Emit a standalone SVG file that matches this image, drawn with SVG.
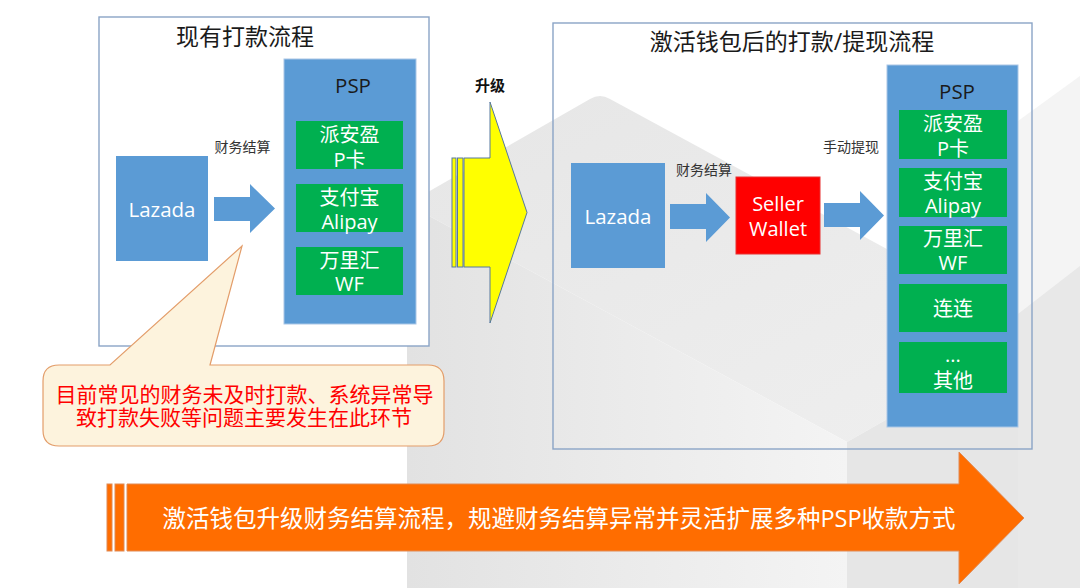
<svg xmlns="http://www.w3.org/2000/svg" width="1080" height="588" viewBox="0 0 1080 588">
<style>
text{font-family:"Open Sans","Noto Sans CJK SC",sans-serif;}
.w{fill:#ffffff;font-size:20px;text-anchor:middle;}
.title{font-size:23px;fill:#1a1a1a;text-anchor:middle;}
.lbl{font-size:14px;fill:#333333;text-anchor:middle;}
.panel{stroke:#8aa4c6;stroke-width:1.4;}
.blue{fill:#5b9bd5;}
.green{fill:#00b050;}
.psp{fill:#5b9bd5;stroke:#a9c6e6;stroke-width:1;}
.pspt{font-size:20.5px;fill:#1a1a1a;text-anchor:middle;}
.call{font-size:21px;fill:#ff0000;text-anchor:middle;}
</style>
<defs>
<linearGradient id="gLeft" x1="0" y1="0" x2="1" y2="0">
<stop offset="0" stop-color="#e2e2e2"/>
<stop offset="1" stop-color="#f4f4f4"/>
</linearGradient>
<linearGradient id="gTop" x1="0" y1="0" x2="1" y2="1">
<stop offset="0" stop-color="#e6e6e6"/>
<stop offset="1" stop-color="#efefef"/>
</linearGradient>
</defs>
<rect width="1080" height="588" fill="#ffffff"/>
<g id="background">
<path d="M407,204 L590,99 Q600,93 610,99 L1040,332 L847,442 Z" fill="url(#gTop)"/>
<path d="M407,204 L847,442 L847,588 L407,588 Z" fill="url(#gLeft)"/>
<path d="M847,442 L1040,332 L1040,588 L847,588 Z" fill="#e6e6e6"/>
<path d="M1080,76 L1018,121 L1018,588 L1080,588 Z" fill="#f4f4f4"/>
<path d="M1080,266 L1018,314 L1018,588 L1080,588 Z" fill="#e8e8e8"/>
</g>
<g id="panel-current">
<rect x="99" y="17" width="330" height="329" fill="#ffffff" class="panel"/>
<text x="245" y="44.5" class="title">现有打款流程</text>
</g>
<g id="panel-new">
<rect x="553" y="23" width="479" height="426" fill="none" class="panel"/>
<text x="792" y="50" class="title">激活钱包后的打款/提现流程</text>
</g>
<g id="lazada-left">
<rect x="116" y="156" width="92" height="105" class="blue"/>
<text x="162" y="216.5" class="w" style="font-size:20.5px">Lazada</text>
</g>
<g id="psp-left">
<rect x="284" y="59" width="132" height="265" class="psp"/>
<text x="353" y="93" class="pspt">PSP</text>
</g>
<g id="psp-left-payoneer">
<rect x="296" y="121" width="107" height="48" class="green"/>
<text x="349.5" y="142" class="w">派安盈</text>
<text x="349.5" y="167" class="w">P卡</text>
</g>
<g id="psp-left-alipay">
<rect x="296" y="184" width="107" height="48" class="green"/>
<text x="349.5" y="205" class="w">支付宝</text>
<text x="349.5" y="229" class="w">Alipay</text>
</g>
<g id="psp-left-wf">
<rect x="296" y="247" width="107" height="48" class="green"/>
<text x="349.5" y="268" class="w">万里汇</text>
<text x="349.5" y="291" class="w">WF</text>
</g>
<g id="callout">
<path d="M59,365 H110 L242,246 L210,365 H428 Q444,365 444,381 V430 Q444,446 428,446 H59 Q43,446 43,430 V381 Q43,365 59,365 Z" fill="#fdf3dd" stroke="#e39d6a" stroke-width="1.2"/>
<text x="244.5" y="402" class="call">目前常见的财务未及时打款、系统异常导</text>
<text x="244" y="425" class="call">致打款失败等问题主要发生在此环节</text>
</g>
<g id="lazada-right">
<rect x="571" y="163" width="94" height="105" class="blue"/>
<text x="618" y="224" class="w" style="font-size:20.5px">Lazada</text>
</g>
<g id="seller-wallet">
<rect x="736" y="177" width="84" height="77" fill="#ff0000" stroke="#e83030" stroke-width="1"/>
<text x="778" y="211" class="w">Seller</text>
<text x="778" y="236" class="w">Wallet</text>
</g>
<g id="psp-right">
<rect x="887" y="65" width="131" height="362" class="psp"/>
<text x="957" y="99" class="pspt">PSP</text>
</g>
<g id="psp-right-payoneer">
<rect x="899" y="110" width="108" height="49" class="green"/>
<text x="953" y="130.5" class="w">派安盈</text>
<text x="953" y="155.5" class="w">P卡</text>
</g>
<g id="psp-right-alipay">
<rect x="899" y="168" width="108" height="49" class="green"/>
<text x="953" y="188.5" class="w">支付宝</text>
<text x="953" y="213" class="w">Alipay</text>
</g>
<g id="psp-right-wf">
<rect x="899" y="226" width="108" height="48" class="green"/>
<text x="953" y="245.5" class="w">万里汇</text>
<text x="953" y="270" class="w">WF</text>
</g>
<g id="psp-right-lianlian">
<rect x="899" y="284" width="108" height="48" class="green"/>
<text x="953" y="315.5" class="w">连连</text>
</g>
<g id="psp-right-other">
<rect x="899" y="342" width="108" height="51" class="green"/>
<text x="953" y="362" class="w">...</text>
<text x="953" y="387.5" class="w">其他</text>
</g>
<g id="connectors">
<path d="M214,197 H250 V184 L275,208.5 L250,233 V221 H214 Z" class="blue"/>
<text x="242.5" y="152" class="lbl">财务结算</text>
<path d="M670,204 H706 V193 L730,217.5 L706,242 V229 H670 Z" class="blue"/>
<text x="704" y="175" class="lbl">财务结算</text>
<path d="M824,203 H860 V191 L884,215.5 L860,240 V227 H824 Z" class="blue"/>
<text x="851" y="152" class="lbl">手动提现</text>
<g id="upgrade-arrow">
<rect x="452" y="158" width="4" height="109" fill="#ffff00" stroke="#56789e" stroke-width="1"/>
<rect x="457.5" y="158" width="5.5" height="109" fill="#ffff00" stroke="#56789e" stroke-width="1"/>
<path d="M464,158 H490 V102 L527,212.5 L490,323 V267 H464 Z" fill="#ffff00" stroke="#56789e" stroke-width="1"/>
<text x="490" y="90.5" style="font-size:15px;font-weight:bold;fill:#111111;text-anchor:middle;">升级</text>
</g>
<g id="summary-arrow">
<rect x="107" y="484" width="5" height="67" fill="#ff6d00" stroke="#e08a55" stroke-width="1"/>
<rect x="115" y="484" width="9" height="67" fill="#ff6d00" stroke="#e08a55" stroke-width="1"/>
<path d="M127,484 H959 V452 L1024,518 L959,584 V551 H127 Z" fill="#ff6d00" stroke="#e08a55" stroke-width="1"/>
<text x="559" y="526.5" style="font-size:23.5px;fill:#ffffff;text-anchor:middle;">激活钱包升级财务结算流程，规避财务结算异常并灵活扩展多种PSP收款方式</text>
</g>
</g>
</svg>
